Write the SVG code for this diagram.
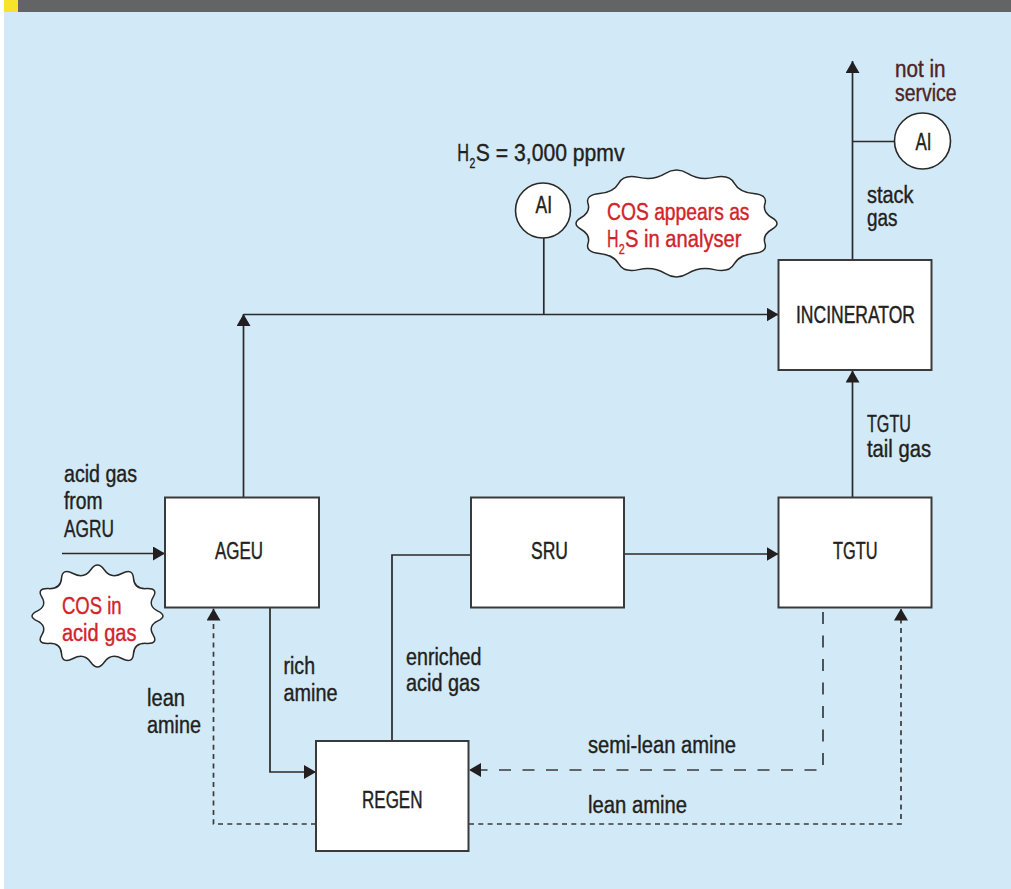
<svg xmlns="http://www.w3.org/2000/svg" width="1011" height="889" viewBox="0 0 1011 889">
<defs>
<style>
.box{fill:#ffffff;stroke:#3a3a3a;stroke-width:2}
.ln{fill:none;stroke:#2a2a2a;stroke-width:1.7}
.dl{fill:none;stroke:#3a3a3a;stroke-width:1.7;stroke-dasharray:5 4.3}
.dm{fill:none;stroke:#3a3a3a;stroke-width:1.7;stroke-dasharray:12 11.5}
.cloud{fill:#ffffff;stroke:#2a2a2a;stroke-width:1.5}
.t{font-family:"Liberation Sans",Arial,sans-serif;font-size:23px;fill:#231f20;stroke:#231f20;stroke-width:0.4}
.c{font-family:"Liberation Sans",Arial,sans-serif;font-size:23.5px;fill:#231f20;stroke:#231f20;stroke-width:0.45}
.r{fill:#d2232a;stroke:#d2232a}
.m{fill:#4d2426;stroke:#4d2426}
.s{font-size:15px}
</style>
<marker id="ah" viewBox="0 0 12 14" refX="12" refY="7" markerWidth="12" markerHeight="14" markerUnits="userSpaceOnUse" orient="auto">
<path d="M0,0 L12,7 L0,14 Z" fill="#231f20"/>
</marker>
</defs>
<rect x="0" y="0" width="1011" height="889" fill="#ffffff"/>
<rect x="4" y="12" width="1007" height="877" fill="#d2eaf7"/>
<rect x="4" y="0" width="1007" height="12" fill="#636466"/>
<rect x="4" y="0" width="14" height="12" fill="#f7e32a"/>

<g id="connectors">
<path class="ln" d="M243.5,497 L243.5,314" marker-end="url(#ah)"/>
<path class="ln" d="M243.5,314.5 L778.5,314.5" marker-end="url(#ah)"/>
<path class="ln" d="M543.8,238 L543.8,314.5"/>
<path class="ln" d="M852.5,260 L852.5,61" marker-end="url(#ah)"/>
<path class="ln" d="M852.5,141.5 L894.5,141.5"/>
<path class="ln" d="M852.5,497 L852.5,370.5" marker-end="url(#ah)"/>
<path class="ln" d="M62,553.5 L165,553.5" marker-end="url(#ah)"/>
<path class="ln" d="M624,554 L778.5,554" marker-end="url(#ah)"/>
<path class="ln" d="M392,741 L392,555 L471,555"/>
<path class="ln" d="M270,608 L270,772 L316,772" marker-end="url(#ah)"/>
<path class="dm" d="M823,612 L823,770 L469,770" marker-end="url(#ah)"/>
<path class="dl" d="M316,824 L213.5,824 L213.5,608.5" marker-end="url(#ah)"/>
<path class="dl" d="M469,824 L901,824 L901,608.5" marker-end="url(#ah)"/>
</g>

<g id="ageu"><rect class="box" x="165" y="497.5" width="154" height="110"/><text class="c" x="215" y="559" textLength="48" lengthAdjust="spacingAndGlyphs">AGEU</text></g>
<g id="sru"><rect class="box" x="471" y="497.5" width="153" height="110"/><text class="c" x="531" y="559" textLength="37" lengthAdjust="spacingAndGlyphs">SRU</text></g>
<g id="tgtu"><rect class="box" x="778.5" y="497.5" width="153" height="110"/><text class="c" x="833" y="559" textLength="44.5" lengthAdjust="spacingAndGlyphs">TGTU</text></g>
<g id="incinerator"><rect class="box" x="778.5" y="260" width="153" height="110"/><text class="c" x="796" y="323" textLength="119" lengthAdjust="spacingAndGlyphs">INCINERATOR</text></g>
<g id="regen"><rect class="box" x="316" y="741" width="152.5" height="110"/><text class="c" x="362" y="808" textLength="60.5" lengthAdjust="spacingAndGlyphs">REGEN</text></g>

<g id="ai1"><circle cx="543" cy="210.5" r="27.5" fill="#ffffff" stroke="#2a2a2a" stroke-width="1.6"/><text class="c" x="535.5" y="212.5" textLength="16.5" lengthAdjust="spacingAndGlyphs">AI</text></g>
<g id="ai2"><circle cx="922.5" cy="141" r="28" fill="#ffffff" stroke="#2a2a2a" stroke-width="1.6"/><text class="c" x="915.5" y="150" textLength="16" lengthAdjust="spacingAndGlyphs">AI</text></g>

<g id="cloud-analyser">
<path class="cloud" d="M665.02,173.56 Q676.5,166.4 687.99,173.56 Q699.47,180.71 714.34,177.38 Q729.2,174.05 734.2,183.12 Q739.21,192.18 753.5,193.57 Q767.78,194.95 764.98,203.49 Q762.18,212.03 772.04,217.77 Q781.9,223.5 772.04,229.24 Q762.18,234.97 764.98,243.51 Q767.78,252.05 753.5,253.44 Q739.21,254.82 734.2,263.89 Q729.2,272.95 714.34,269.62 Q699.47,266.29 687.99,273.45 Q676.5,280.6 665.02,273.45 Q653.53,266.29 638.67,269.62 Q623.8,272.95 618.8,263.89 Q613.79,254.82 599.5,253.44 Q585.22,252.05 588.02,243.51 Q590.82,234.97 580.96,229.24 Q571.1,223.5 580.96,217.77 Q590.82,212.03 588.02,203.49 Q585.22,194.95 599.5,193.57 Q613.79,192.18 618.8,183.12 Q623.8,174.05 638.67,177.38 Q653.53,180.71 665.02,173.56 Z"/>
<text class="t r" x="607" y="220" textLength="142.5" lengthAdjust="spacingAndGlyphs">COS appears as</text>
<text class="t r" x="607" y="247"><tspan textLength="11.5" lengthAdjust="spacingAndGlyphs">H</tspan><tspan class="s" x="618.7" y="254" textLength="6" lengthAdjust="spacingAndGlyphs">2</tspan><tspan x="625" y="247" textLength="116.5" lengthAdjust="spacingAndGlyphs">S in analyser</tspan></text>
</g>

<g id="cloud-acidgas">
<path class="cloud" d="M90.78,569.75 Q97.5,560.25 104.22,569.75 Q110.94,579.25 121.87,573.49 Q132.8,567.72 133.5,578.42 Q134.19,589.11 146.42,588.62 Q158.64,588.12 153.14,597.14 Q147.64,606.15 157.87,611.08 Q168.1,616 157.87,620.93 Q147.64,625.85 153.14,634.87 Q158.64,643.88 146.42,643.39 Q134.19,642.89 133.5,653.59 Q132.8,664.28 121.87,658.52 Q110.94,652.75 104.22,662.25 Q97.5,671.75 90.78,662.25 Q84.06,652.75 73.13,658.52 Q62.2,664.28 61.5,653.59 Q60.81,642.89 48.59,643.39 Q36.36,643.88 41.86,634.87 Q47.36,625.85 37.13,620.93 Q26.9,616 37.13,611.08 Q47.36,606.15 41.86,597.14 Q36.36,588.12 48.59,588.62 Q60.81,589.11 61.5,578.42 Q62.2,567.72 73.13,573.49 Q84.06,579.25 90.78,569.75 Z"/>
<text class="t r" x="62" y="614" textLength="59.5" lengthAdjust="spacingAndGlyphs">COS in</text>
<text class="t r" x="62" y="641" textLength="74.5" lengthAdjust="spacingAndGlyphs">acid gas</text>
</g>

<g id="labels">
<text class="t" x="457.3" y="161"><tspan textLength="11.8" lengthAdjust="spacingAndGlyphs">H</tspan><tspan class="s" x="469.5" y="167.5" textLength="5.8" lengthAdjust="spacingAndGlyphs">2</tspan><tspan x="475.8" y="161" textLength="148.7" lengthAdjust="spacingAndGlyphs">S = 3,000 ppmv</tspan></text>
<text class="t m" x="895" y="77" textLength="50.5" lengthAdjust="spacingAndGlyphs">not in</text>
<text class="t m" x="895" y="101" textLength="61.5" lengthAdjust="spacingAndGlyphs">service</text>
<text class="t" x="867" y="203" textLength="46.5" lengthAdjust="spacingAndGlyphs">stack</text>
<text class="t" x="867" y="226" textLength="30.5" lengthAdjust="spacingAndGlyphs">gas</text>
<text class="t" x="867" y="432" textLength="44" lengthAdjust="spacingAndGlyphs">TGTU</text>
<text class="t" x="867" y="457" textLength="64" lengthAdjust="spacingAndGlyphs">tail gas</text>
<text class="t" x="64" y="482" textLength="73" lengthAdjust="spacingAndGlyphs">acid gas</text>
<text class="t" x="64" y="509" textLength="38.5" lengthAdjust="spacingAndGlyphs">from</text>
<text class="t" x="64" y="537" textLength="50" lengthAdjust="spacingAndGlyphs">AGRU</text>
<text class="t" x="147" y="706" textLength="38" lengthAdjust="spacingAndGlyphs">lean</text>
<text class="t" x="147" y="733" textLength="54" lengthAdjust="spacingAndGlyphs">amine</text>
<text class="t" x="283.5" y="674" textLength="31.5" lengthAdjust="spacingAndGlyphs">rich</text>
<text class="t" x="283.5" y="701" textLength="54" lengthAdjust="spacingAndGlyphs">amine</text>
<text class="t" x="406" y="665" textLength="75.5" lengthAdjust="spacingAndGlyphs">enriched</text>
<text class="t" x="406" y="691" textLength="74" lengthAdjust="spacingAndGlyphs">acid gas</text>
<text class="t" x="588" y="753" textLength="148" lengthAdjust="spacingAndGlyphs">semi-lean amine</text>
<text class="t" x="588" y="813" textLength="99" lengthAdjust="spacingAndGlyphs">lean amine</text>
</g>
</svg>
